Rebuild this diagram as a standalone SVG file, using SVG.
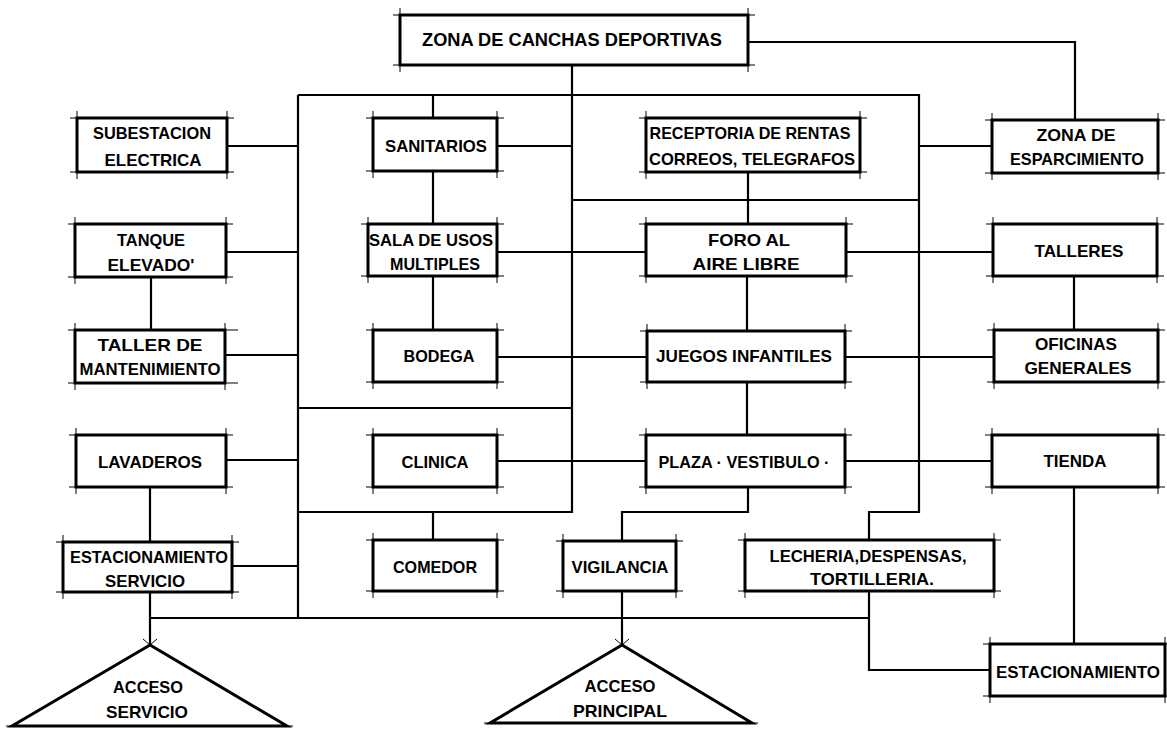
<svg xmlns="http://www.w3.org/2000/svg" width="1167" height="729" viewBox="0 0 1167 729">
<style>
.bx{fill:#fff;stroke:#000;stroke-width:3}
.tk{fill:none;stroke:#000;stroke-width:1}
.cn{fill:none;stroke:#000;stroke-width:2.2;stroke-linejoin:miter}
.tri{fill:#fff;stroke:#000;stroke-width:3;stroke-linejoin:miter}
text{font-family:"Liberation Sans",Arial,sans-serif;font-weight:bold;font-size:17px;text-anchor:middle;fill:#000}
.big{font-size:19px}
</style>
<rect x="0" y="0" width="1167" height="729" fill="#fff"/>
<g id="connectors">
<path class="cn" d="M748,42 H1075 V120"/>
<path class="cn" d="M572,65 V512 H298"/>
<path class="cn" d="M298,95 H919 V512 H869 V541"/>
<path class="cn" d="M298,95 V618"/>
<path class="cn" d="M150,618 H869"/>
<path class="cn" d="M869,591 V670 H990"/>
<path class="cn" d="M433,95 V118 M433,171 V224 M433,276 V330 M497,146 H572"/>
<path class="cn" d="M572,200 H919"/>
<path class="cn" d="M748,172 V224"/>
<path class="cn" d="M919,146 H992"/>
<path class="cn" d="M227,146 H298 M226,252 H298 M225,355 H298 M226,460 H298 M232,566 H298"/>
<path class="cn" d="M151,277 V330 M150,487 V542 M150,592 V645"/>
<path class="cn" d="M298,408 H572"/>
<path class="cn" d="M497,252 H646 M846,252 H993"/>
<path class="cn" d="M497,357 H647 M845,357 H994"/>
<path class="cn" d="M497,461 H646 M845,461 H992"/>
<path class="cn" d="M747,276 V331 M747,382 V435"/>
<path class="cn" d="M748,487 V512 H622 V541"/>
<path class="cn" d="M622,591 V645"/>
<path class="cn" d="M433,512 V540"/>
<path class="cn" d="M1074,276 V330 M1074,487 V644"/>
</g>
<g id="n-canchas"><rect class="bx" x="400" y="15" width="348" height="50"/><path class="tk" d="M393,15 H755 M393,65 H755 M400,8 V72 M748,8 V72"/><text class="big" x="572" y="46" textLength="300" lengthAdjust="spacingAndGlyphs">ZONA DE  CANCHAS DEPORTIVAS</text></g>
<g id="n-subestacion"><rect class="bx" x="77" y="118" width="150" height="54"/><path class="tk" d="M70,118 H234 M70,172 H234 M77,111 V179 M227,111 V179"/><text x="152" y="139" textLength="118" lengthAdjust="spacingAndGlyphs">SUBESTACION</text><text x="153" y="166" textLength="97" lengthAdjust="spacingAndGlyphs">ELECTRICA</text></g>
<g id="n-sanitarios"><rect class="bx" x="373" y="118" width="124" height="53"/><path class="tk" d="M366,118 H504 M366,171 H504 M373,111 V178 M497,111 V178"/><text x="436" y="152" textLength="102" lengthAdjust="spacingAndGlyphs">SANITARIOS</text></g>
<g id="n-receptoria"><rect class="bx" x="646" y="118" width="214" height="54"/><path class="tk" d="M639,118 H867 M639,172 H867 M646,111 V179 M860,111 V179"/><text x="750" y="139" textLength="201" lengthAdjust="spacingAndGlyphs">RECEPTORIA DE RENTAS</text><text x="752" y="165" textLength="206" lengthAdjust="spacingAndGlyphs">CORREOS, TELEGRAFOS</text></g>
<g id="n-esparcimiento"><rect class="bx" x="992" y="120" width="166" height="53"/><path class="tk" d="M985,120 H1165 M985,173 H1165 M992,113 V180 M1158,113 V180"/><text x="1076" y="141" textLength="79" lengthAdjust="spacingAndGlyphs">ZONA  DE</text><text x="1077" y="165" textLength="134" lengthAdjust="spacingAndGlyphs">ESPARCIMIENTO</text></g>
<g id="n-tanque"><rect class="bx" x="75" y="224" width="151" height="53"/><path class="tk" d="M68,224 H233 M68,277 H233 M75,217 V284 M226,217 V284"/><text x="151" y="246" textLength="68" lengthAdjust="spacingAndGlyphs">TANQUE</text><text x="151" y="271" textLength="87" lengthAdjust="spacingAndGlyphs">ELEVADO'</text></g>
<g id="n-sala"><rect class="bx" x="368" y="224" width="129" height="52"/><path class="tk" d="M361,224 H504 M361,276 H504 M368,217 V283 M497,217 V283"/><text x="431" y="246" textLength="124" lengthAdjust="spacingAndGlyphs">SALA DE USOS</text><text x="435" y="270" textLength="90" lengthAdjust="spacingAndGlyphs">MULTIPLES</text></g>
<g id="n-foro"><rect class="bx" x="646" y="224" width="200" height="52"/><path class="tk" d="M639,224 H853 M639,276 H853 M646,217 V283 M846,217 V283"/><text x="749" y="246" textLength="82" lengthAdjust="spacingAndGlyphs">FORO AL</text><text x="746" y="270" textLength="107" lengthAdjust="spacingAndGlyphs">AIRE  LIBRE</text></g>
<g id="n-talleres"><rect class="bx" x="993" y="224" width="164" height="52"/><path class="tk" d="M986,224 H1164 M986,276 H1164 M993,217 V283 M1157,217 V283"/><text x="1079" y="257" textLength="89" lengthAdjust="spacingAndGlyphs">TALLERES</text></g>
<g id="n-taller-mant"><rect class="bx" x="75" y="330" width="150" height="53"/><path class="tk" d="M68,330 H238 M68,383 H238 M75,323 V390 M225,323 V390"/><text x="150" y="351" textLength="105" lengthAdjust="spacingAndGlyphs">TALLER  DE</text><text x="150" y="375" textLength="141" lengthAdjust="spacingAndGlyphs">MANTENIMIENTO</text></g>
<g id="n-bodega"><rect class="bx" x="373" y="330" width="124" height="52"/><path class="tk" d="M366,330 H504 M366,382 H504 M373,323 V389 M497,323 V389"/><text x="439" y="362" textLength="71" lengthAdjust="spacingAndGlyphs">BODEGA</text></g>
<g id="n-juegos"><rect class="bx" x="647" y="331" width="198" height="51"/><path class="tk" d="M640,331 H852 M640,382 H852 M647,324 V389 M845,324 V389"/><text x="744" y="362" textLength="176" lengthAdjust="spacingAndGlyphs">JUEGOS  INFANTILES</text></g>
<g id="n-oficinas"><rect class="bx" x="994" y="330" width="164" height="52"/><path class="tk" d="M987,330 H1165 M987,382 H1165 M994,323 V389 M1158,323 V389"/><text x="1076" y="350" textLength="82" lengthAdjust="spacingAndGlyphs">OFICINAS</text><text x="1078" y="374" textLength="107" lengthAdjust="spacingAndGlyphs">GENERALES</text></g>
<g id="n-lavaderos"><rect class="bx" x="76" y="435" width="150" height="52"/><path class="tk" d="M69,435 H233 M69,487 H233 M76,428 V494 M226,428 V494"/><text x="150" y="468" textLength="104" lengthAdjust="spacingAndGlyphs">LAVADEROS</text></g>
<g id="n-clinica"><rect class="bx" x="373" y="435" width="124" height="52"/><path class="tk" d="M366,435 H504 M366,487 H504 M373,428 V494 M497,428 V494"/><text x="435" y="468" textLength="67" lengthAdjust="spacingAndGlyphs">CLINICA</text></g>
<g id="n-plaza"><rect class="bx" x="646" y="435" width="199" height="52"/><path class="tk" d="M639,435 H852 M639,487 H852 M646,428 V494 M845,428 V494"/><text x="744" y="468" textLength="171" lengthAdjust="spacingAndGlyphs">PLAZA · VESTIBULO ·</text></g>
<g id="n-tienda"><rect class="bx" x="992" y="435" width="166" height="52"/><path class="tk" d="M985,435 H1165 M985,487 H1165 M992,428 V494 M1158,428 V494"/><text x="1075" y="467" textLength="63" lengthAdjust="spacingAndGlyphs">TIENDA</text></g>
<g id="n-est-servicio"><rect class="bx" x="63" y="542" width="169" height="50"/><path class="tk" d="M56,542 H239 M56,592 H239 M63,535 V599 M232,535 V599"/><text x="149" y="563" textLength="158" lengthAdjust="spacingAndGlyphs">ESTACIONAMIENTO</text><text x="145" y="587" textLength="80" lengthAdjust="spacingAndGlyphs">SERVICIO</text></g>
<g id="n-comedor"><rect class="bx" x="373" y="540" width="124" height="51"/><path class="tk" d="M366,540 H504 M366,591 H504 M373,533 V598 M497,533 V598"/><text x="435" y="573" textLength="84" lengthAdjust="spacingAndGlyphs">COMEDOR</text></g>
<g id="n-vigilancia"><rect class="bx" x="563" y="541" width="113" height="50"/><path class="tk" d="M556,541 H683 M556,591 H683 M563,534 V598 M676,534 V598"/><text x="620" y="573" textLength="97" lengthAdjust="spacingAndGlyphs">VIGILANCIA</text></g>
<g id="n-lecheria"><rect class="bx" x="745" y="540" width="249" height="51"/><path class="tk" d="M738,540 H1001 M738,591 H1001 M745,533 V598 M994,533 V598"/><text x="868" y="562" textLength="197" lengthAdjust="spacingAndGlyphs">LECHERIA,DESPENSAS,</text><text x="872" y="585" textLength="124" lengthAdjust="spacingAndGlyphs">TORTILLERIA.</text></g>
<g id="n-estacionamiento"><rect class="bx" x="990" y="644" width="175" height="52"/><path class="tk" d="M983,644 H1167 M983,696 H1167 M990,637 V703 M1165,637 V703"/><text x="1078" y="678" textLength="164" lengthAdjust="spacingAndGlyphs">ESTACIONAMIENTO</text></g>
<g id="n-acceso-servicio"><path class="tri" d="M150,645 L12,726 H287 Z"/><path class="tk" d="M143,639 L150,645 L157,639 M6,726 H293"/><text x="148" y="693" textLength="70" lengthAdjust="spacingAndGlyphs">ACCESO</text><text x="147" y="718" textLength="82" lengthAdjust="spacingAndGlyphs">SERVICIO</text></g>
<g id="n-acceso-principal"><path class="tri" d="M622,645 L490,723 H752 Z"/><path class="tk" d="M615,639 L622,645 L629,639 M484,723 H758"/><text x="620" y="692" textLength="71" lengthAdjust="spacingAndGlyphs">ACCESO</text><text x="620" y="717" textLength="94" lengthAdjust="spacingAndGlyphs">PRINCIPAL</text></g>
</svg>
